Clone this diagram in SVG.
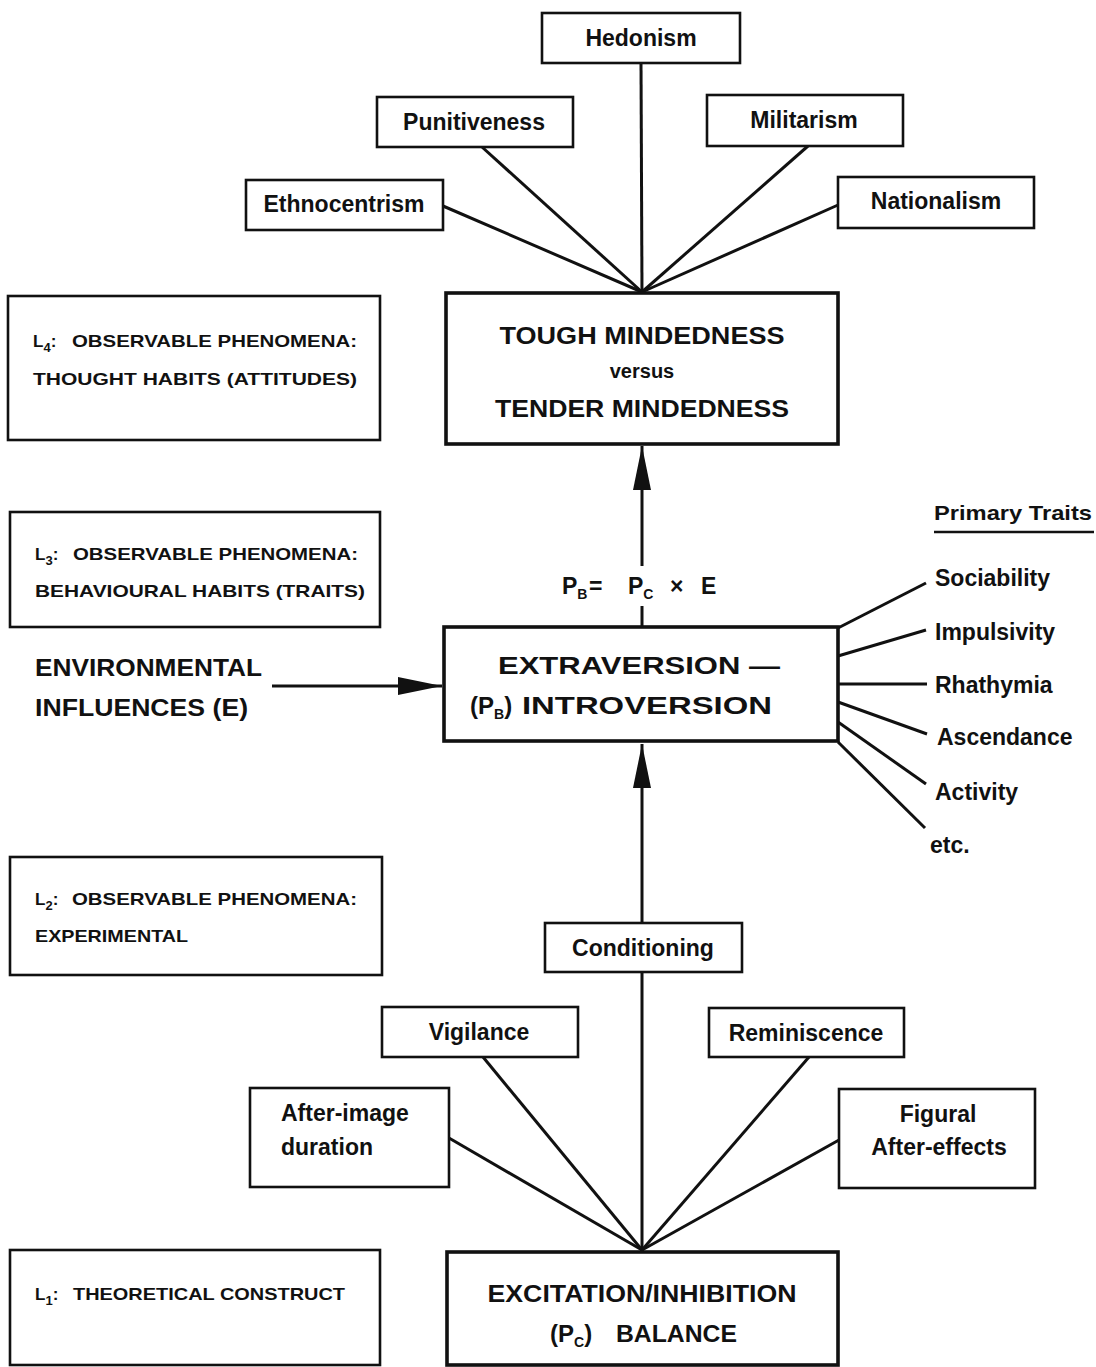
<svg xmlns="http://www.w3.org/2000/svg" width="1096" height="1367" viewBox="0 0 1096 1367">
<style>
.box{fill:#fff;stroke:#111;stroke-width:2.6}
.main{fill:#fff;stroke:#111;stroke-width:3.6}
.ln{stroke:#111;stroke-width:3;fill:none}
.t{font-family:"Liberation Sans",Arial,Helvetica,sans-serif;font-weight:bold;fill:#111}
.n{font-size:23px;text-anchor:middle}
.lv{font-size:17px}
.big{font-size:24px}
.tr{font-size:23px}
</style>
<defs>
<marker id="ah" markerUnits="userSpaceOnUse" markerWidth="44" markerHeight="20" refX="44" refY="10" orient="auto">
<path d="M0,1 L44,10 L0,19 z" fill="#111"/>
</marker>
</defs>
<rect width="1096" height="1367" fill="#fff"/>

<g id="connectors">
<line class="ln" x1="443" y1="206" x2="642" y2="292"/>
<line class="ln" x1="482" y1="147" x2="642" y2="292"/>
<line class="ln" x1="641" y1="63" x2="642" y2="292"/>
<line class="ln" x1="808" y1="146" x2="642" y2="292"/>
<line class="ln" x1="838" y1="205" x2="642" y2="292"/>
<line class="ln" x1="642" y1="566" x2="642" y2="446" marker-end="url(#ah)"/>
<line class="ln" x1="642" y1="606" x2="642" y2="628"/>
<line class="ln" x1="272" y1="686" x2="442" y2="686" marker-end="url(#ah)"/>
<line class="ln" x1="642" y1="923" x2="642" y2="744" marker-end="url(#ah)"/>
<line class="ln" x1="642" y1="972" x2="642" y2="1252"/>
<line class="ln" x1="449" y1="1138" x2="642" y2="1250"/>
<line class="ln" x1="483" y1="1057" x2="642" y2="1250"/>
<line class="ln" x1="809" y1="1057" x2="642" y2="1250"/>
<line class="ln" x1="839" y1="1140" x2="642" y2="1250"/>
<line class="ln" x1="838" y1="628" x2="926" y2="583"/>
<line class="ln" x1="838" y1="656" x2="926" y2="630"/>
<line class="ln" x1="838" y1="684" x2="927" y2="684"/>
<line class="ln" x1="838" y1="702" x2="927" y2="734"/>
<line class="ln" x1="838" y1="722" x2="926" y2="784"/>
<line class="ln" x1="838" y1="742" x2="925" y2="828"/>
</g>

<g id="hedonism"><rect class="box" x="542" y="13" width="198" height="50"/><text class="t n" x="641" y="46">Hedonism</text></g>
<g id="punitiveness"><rect class="box" x="377" y="97" width="196" height="50"/><text class="t n" x="474" y="130">Punitiveness</text></g>
<g id="militarism"><rect class="box" x="707" y="95" width="196" height="51"/><text class="t n" x="804" y="128">Militarism</text></g>
<g id="ethnocentrism"><rect class="box" x="246" y="180" width="197" height="50"/><text class="t n" x="344" y="212">Ethnocentrism</text></g>
<g id="nationalism"><rect class="box" x="838" y="177" width="196" height="51"/><text class="t n" x="936" y="209">Nationalism</text></g>

<g id="l4"><rect class="box" x="8" y="296" width="372" height="144"/>
<text class="t lv" x="33" y="347">L<tspan font-size="13" dy="5">4</tspan><tspan dy="-5">:</tspan></text>
<text class="t lv" x="72" y="347" textLength="285" lengthAdjust="spacingAndGlyphs">OBSERVABLE PHENOMENA:</text>
<text class="t lv" x="33" y="385" textLength="324" lengthAdjust="spacingAndGlyphs">THOUGHT HABITS (ATTITUDES)</text></g>

<g id="tough"><rect class="main" x="446" y="293" width="392" height="151"/>
<text class="t big" x="642" y="344" text-anchor="middle" textLength="285" lengthAdjust="spacingAndGlyphs">TOUGH MINDEDNESS</text>
<text class="t" x="642" y="378" font-size="20" text-anchor="middle">versus</text>
<text class="t big" x="642" y="417" text-anchor="middle" textLength="294" lengthAdjust="spacingAndGlyphs">TENDER MINDEDNESS</text></g>

<g id="l3"><rect class="box" x="10" y="512" width="370" height="115"/>
<text class="t lv" x="35" y="560">L<tspan font-size="13" dy="5">3</tspan><tspan dy="-5">:</tspan></text>
<text class="t lv" x="73" y="560" textLength="285" lengthAdjust="spacingAndGlyphs">OBSERVABLE PHENOMENA:</text>
<text class="t lv" x="35" y="597" textLength="330" lengthAdjust="spacingAndGlyphs">BEHAVIOURAL HABITS (TRAITS)</text></g>

<g id="formula"><text class="t" font-size="23" y="594"><tspan x="562">P</tspan><tspan font-size="14" dy="5">B</tspan><tspan dy="-5" x="589">=</tspan><tspan x="628">P</tspan><tspan font-size="14" dy="5">C</tspan><tspan dy="-5" x="670">×</tspan><tspan x="701">E</tspan></text></g>

<g id="environment"><text class="t" font-size="23" x="35" y="676" textLength="227" lengthAdjust="spacingAndGlyphs">ENVIRONMENTAL</text>
<text class="t" font-size="23" x="35" y="716" textLength="213" lengthAdjust="spacingAndGlyphs">INFLUENCES (E)</text></g>

<g id="extraversion"><rect class="main" x="444" y="627" width="394" height="114"/>
<text class="t big" x="498" y="674" textLength="282" lengthAdjust="spacingAndGlyphs">EXTRAVERSION —</text>
<text class="t big" x="470" y="714">(P<tspan font-size="14" dy="5">B</tspan><tspan dy="-5">)</tspan></text>
<text class="t big" x="522" y="714" textLength="250" lengthAdjust="spacingAndGlyphs">INTROVERSION</text></g>

<g id="traits">
<text class="t" font-size="21" x="934" y="520" textLength="158" lengthAdjust="spacingAndGlyphs">Primary Traits</text>
<line x1="934" y1="532" x2="1094" y2="532" stroke="#111" stroke-width="2.5"/>
<text class="t tr" x="935" y="586">Sociability</text>
<text class="t tr" x="935" y="640">Impulsivity</text>
<text class="t tr" x="935" y="693">Rhathymia</text>
<text class="t tr" x="937" y="745">Ascendance</text>
<text class="t tr" x="935" y="800">Activity</text>
<text class="t tr" x="930" y="853">etc.</text>
</g>

<g id="l2"><rect class="box" x="10" y="857" width="372" height="118"/>
<text class="t lv" x="35" y="905">L<tspan font-size="13" dy="5">2</tspan><tspan dy="-5">:</tspan></text>
<text class="t lv" x="72" y="905" textLength="285" lengthAdjust="spacingAndGlyphs">OBSERVABLE PHENOMENA:</text>
<text class="t lv" x="35" y="942" textLength="153" lengthAdjust="spacingAndGlyphs">EXPERIMENTAL</text></g>

<g id="conditioning"><rect class="box" x="545" y="923" width="197" height="49"/><text class="t n" x="643" y="956">Conditioning</text></g>
<g id="vigilance"><rect class="box" x="382" y="1007" width="196" height="50"/><text class="t n" x="479" y="1040">Vigilance</text></g>
<g id="reminiscence"><rect class="box" x="709" y="1008" width="195" height="49"/><text class="t n" x="806" y="1041">Reminiscence</text></g>
<g id="afterimage"><rect class="box" x="250" y="1088" width="199" height="99"/>
<text class="t" font-size="23" x="281" y="1121">After-image</text>
<text class="t" font-size="23" x="281" y="1155">duration</text></g>
<g id="figural"><rect class="box" x="839" y="1089" width="196" height="99"/>
<text class="t n" x="938" y="1122">Figural</text>
<text class="t n" x="939" y="1155">After-effects</text></g>

<g id="excitation"><rect class="main" x="447" y="1252" width="391" height="113"/>
<text class="t big" x="642" y="1302" text-anchor="middle" textLength="309" lengthAdjust="spacingAndGlyphs">EXCITATION/INHIBITION</text>
<text class="t big" x="550" y="1342">(P<tspan font-size="14" dy="5">C</tspan><tspan dy="-5">)</tspan></text>
<text class="t big" x="616" y="1342" textLength="121" lengthAdjust="spacingAndGlyphs">BALANCE</text></g>

<g id="l1"><rect class="box" x="10" y="1250" width="370" height="115"/>
<text class="t lv" x="35" y="1300">L<tspan font-size="13" dy="5">1</tspan><tspan dy="-5">:</tspan></text>
<text class="t lv" x="73" y="1300" textLength="272" lengthAdjust="spacingAndGlyphs">THEORETICAL CONSTRUCT</text></g>
</svg>
